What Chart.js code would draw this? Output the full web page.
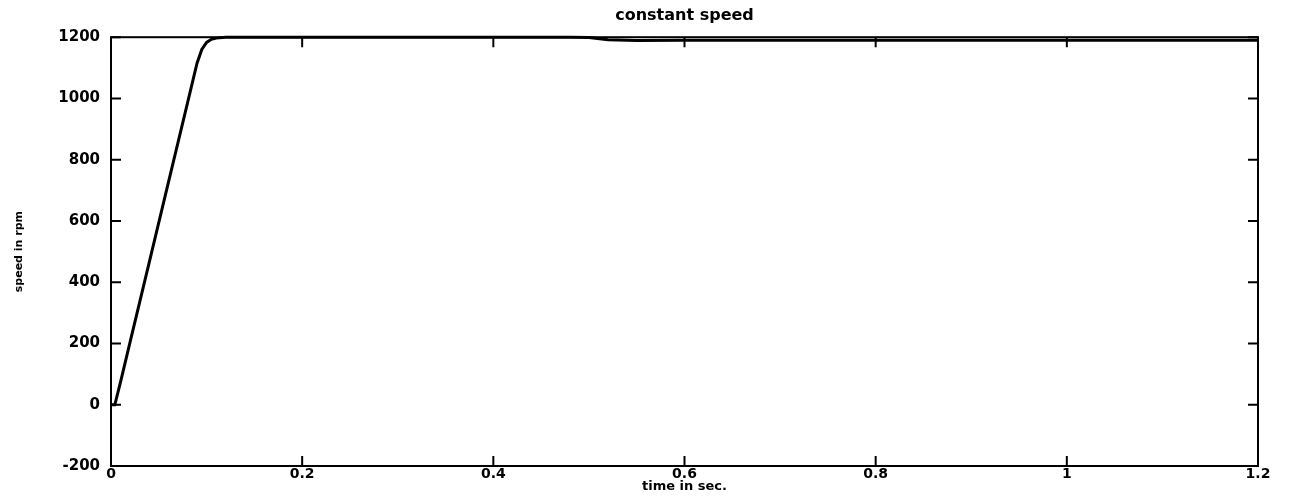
<!DOCTYPE html>
<html>
<head>
<meta charset="utf-8">
<script src="https://cdn.jsdelivr.net/npm/chart.js@4"></script>
<style>
  html, body { margin: 0; padding: 0; background: #fff; }
  #wrap { width: 1291px; height: 503px; }
</style>
</head>
<body>
<div id="wrap"><canvas id="grafico"></canvas></div>
<script>
// time axis (s) and motor speed (rpm)
const tiempo = [0, 0.004, 0.01, 0.02, 0.04, 0.06, 0.08, 0.09, 0.095, 0.1, 0.105, 0.11, 0.12, 0.15, 0.2, 0.3, 0.4, 0.48, 0.5, 0.52, 0.55, 0.6, 0.8, 1.0, 1.2];
const velocidad = [0, 0, 75, 205, 465, 725, 985, 1115, 1160, 1183, 1193, 1197, 1200, 1200, 1200, 1200, 1200, 1200, 1199, 1192, 1189, 1190, 1190, 1190, 1190];

const ticksX = [0, 0.2, 0.4, 0.6, 0.8, 1, 1.2];
const ticksY = [-200, 0, 200, 400, 600, 800, 1000, 1200];

const titulo = 'constant speed';
const tituloX = 'time in sec.';
const tituloY = 'speed in rpm';

const puntos = tiempo.map((t, i) => ({ x: t, y: velocidad[i] }));

// box + inward ticks like the matlab axes
const marcoPlugin = {
    id: 'marco',
    afterDatasetsDraw(chart) {
        const ctx = chart.ctx;
        const a = chart.chartArea;
        const sx = chart.scales.x;
        const sy = chart.scales.y;
        const largo = 10;
        ctx.save();
        ctx.strokeStyle = '#000';
        ctx.lineWidth = 2;
        ctx.strokeRect(a.left, a.top, a.right - a.left, a.bottom - a.top);
        ctx.beginPath();
        ticksX.forEach(v => {
            const px = sx.getPixelForValue(v);
            ctx.moveTo(px, a.bottom);
            ctx.lineTo(px, a.bottom - largo);
            ctx.moveTo(px, a.top);
            ctx.lineTo(px, a.top + largo);
        });
        ticksY.forEach(v => {
            const py = sy.getPixelForValue(v);
            ctx.moveTo(a.left, py);
            ctx.lineTo(a.left + largo, py);
            ctx.moveTo(a.right, py);
            ctx.lineTo(a.right - largo, py);
        });
        ctx.stroke();
        ctx.restore();
    }
};

const etiqueta = v => String(Math.round(v * 10) / 10);

const ctx = document.getElementById('grafico').getContext('2d');
new Chart(ctx, {
    type: 'scatter',
    data: {
        datasets: [{
            data: puntos,
            showLine: true,
            borderColor: '#000',
            borderWidth: 3,
            pointRadius: 0,
            tension: 0,
            clip: 4
        }]
    },
    options: {
        responsive: true,
        maintainAspectRatio: false,
        animation: false,
        layout: { padding: { top: 0, right: 33, bottom: 0, left: 0 } },
        plugins: {
            legend: { display: false },
            tooltip: { enabled: false },
            title: {
                display: true,
                text: titulo,
                fullSize: false,
                color: '#000',
                font: { family: 'DejaVu Sans', size: 16, weight: 'bold' },
                padding: { top: 6, bottom: 12 }
            }
        },
        scales: {
            x: {
                type: 'linear',
                min: 0,
                max: 1.2,
                afterBuildTicks: s => { s.ticks = ticksX.map(v => ({ value: v })); },
                afterFit: s => { s.height = 37; },
                grid: { display: false, drawTicks: false },
                border: { display: false },
                ticks: {
                    color: '#000',
                    padding: 0,
                    maxRotation: 0,
                    callback: etiqueta,
                    font: { family: 'DejaVu Sans', size: 14, weight: 'bold' }
                },
                title: {
                    display: true,
                    text: tituloX,
                    color: '#000',
                    font: { family: 'DejaVu Sans', size: 13, weight: 'bold' },
                    padding: { top: 0, bottom: 9 }
                }
            },
            y: {
                type: 'linear',
                min: -200,
                max: 1200,
                afterBuildTicks: s => { s.ticks = ticksY.map(v => ({ value: v })); },
                afterFit: s => { s.width = 111; },
                grid: { display: false, drawTicks: false },
                border: { display: false },
                ticks: {
                    color: '#000',
                    padding: 11,
                    callback: etiqueta,
                    font: { family: 'DejaVu Sans', size: 15, weight: 'bold' }
                },
                title: {
                    display: true,
                    text: tituloY,
                    color: '#000',
                    font: { family: 'DejaVu Sans', size: 11, weight: 'bold' },
                    padding: { top: 13, bottom: 0 }
                }
            }
        }
    },
    plugins: [marcoPlugin]
});
</script>
</body>
</html>
